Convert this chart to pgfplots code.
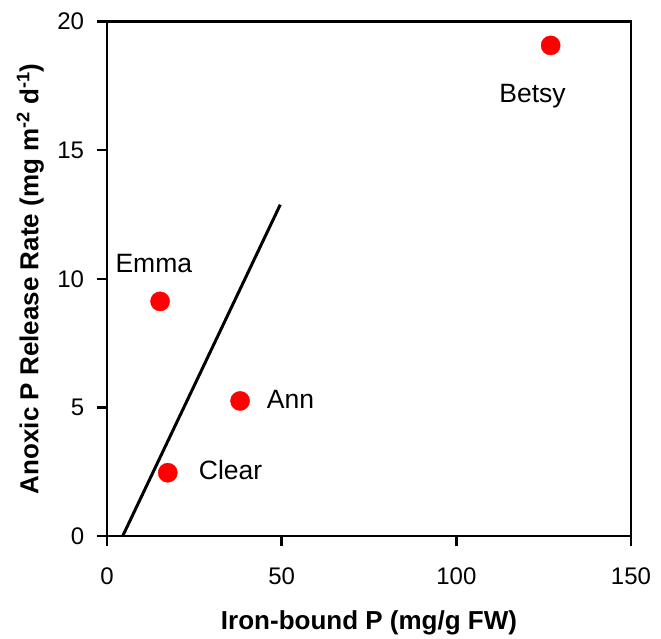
\documentclass[border=0pt]{standalone}
\usepackage{fontspec}
\setmainfont{Liberation Sans}
\usepackage{pgfplots}
\pgfplotsset{compat=1.18}
\begin{document}
\begin{tikzpicture}
\useasboundingbox (-107bp,-103bp) rectangle (554bp,536bp);
\begin{axis}[
  scale only axis,
  width=524bp, height=514.5bp,
  xmin=0, xmax=150, ymin=0, ymax=20,
  xtick={0,50,100,150}, ytick={0,5,10,15,20},
  tick align=outside,
  major tick length=10bp,
  xtick pos=bottom, ytick pos=left,
  axis line style={line width=2.8bp},
  every tick/.style={line width=2.4bp, black},
  /pgf/number format/assume math mode=true,
  tick label style={font=\fontsize{24bp}{28bp}\selectfont, inner sep=0pt},
  xticklabel style={anchor=base, yshift=-38bp},
  yticklabel style={anchor=east, xshift=-12.7bp},
  xlabel={\textbf{Iron-bound P (mg/g FW)}},
  ylabel={\textbf{Anoxic P Release Rate (mg m\textsuperscript{-2} d\textsuperscript{-1})}},
  label style={font=\fontsize{26bp}{30bp}\selectfont, inner sep=0pt},
  xlabel style={at={(axis description cs:0.5,-0.1813)}, anchor=base},
  ylabel style={at={(axis description cs:-0.1311,0.5)}, anchor=base},
  clip=false,
]
\addplot[black, line width=3bp] coordinates {(4.5,0) (49.6,12.88)};
\addplot[only marks, mark=*, mark size=9.6bp, red, mark options={draw=red, fill=red, line width=0.4bp}]
  coordinates {(127,19.07) (15.2,9.12) (38.1,5.25) (17.4,2.46)};
\node[font=\fontsize{26.5bp}{30bp}\selectfont, inner sep=0pt, anchor=base] at (axis cs:121.8,16.87) {Betsy};
\node[font=\fontsize{26.5bp}{30bp}\selectfont, inner sep=0pt, anchor=base] at (axis cs:13.4,10.24) {Emma};
\node[font=\fontsize{26.5bp}{30bp}\selectfont, inner sep=0pt, anchor=base west] at (axis cs:45.7,4.96) {Ann};
\node[font=\fontsize{26.5bp}{30bp}\selectfont, inner sep=0pt, anchor=base west] at (axis cs:26.25,2.20) {Clear};
\end{axis}
\end{tikzpicture}
\end{document}
